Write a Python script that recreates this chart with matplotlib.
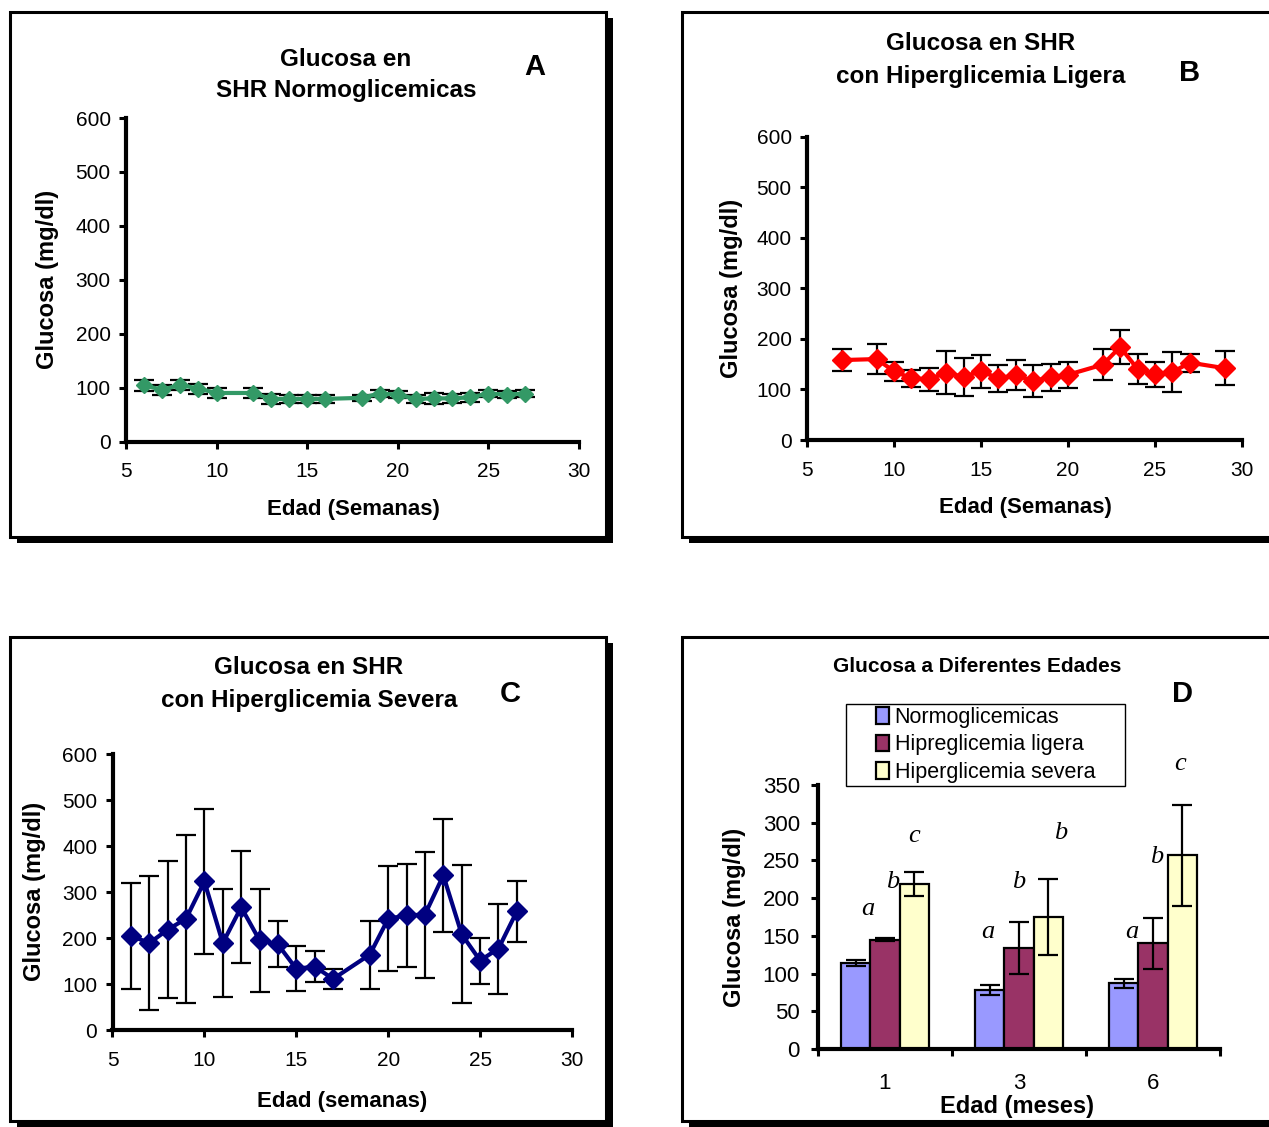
import numpy as np
import matplotlib
matplotlib.use('Agg')
import matplotlib.pyplot as plt
from matplotlib.patches import Rectangle

plt.rcParams['font.family'] = ['Liberation Sans', 'DejaVu Sans']

# Panel A - normoglicemicas
a_weeks = [6, 7, 8, 9, 10, 12, 13, 14, 15, 16, 18, 19, 20, 21, 22, 23, 24, 25, 26, 27]
a_mean = [104, 96, 105, 98, 90, 90, 79, 79, 79, 79, 81, 89, 87, 79, 80, 80, 82, 89, 87, 89]
a_err = [10, 9, 9, 9, 10, 10, 10, 8, 8, 8, 6, 7, 7, 8, 10, 8, 8, 7, 7, 7]

# Panel B - hiperglicemia ligera
b_weeks = [7, 9, 10, 11, 12, 13, 14, 15, 16, 17, 18, 19, 20, 22, 23, 24, 25, 26, 27, 29]
b_mean = [158, 160, 136, 122, 120, 133, 125, 136, 122, 128, 117, 124, 129, 149, 184, 140, 130, 134, 153, 142]
b_err = [22, 30, 19, 17, 23, 43, 38, 33, 27, 30, 32, 27, 26, 31, 34, 30, 25, 39, 18, 34]

# Panel C - hiperglicemia severa
c_weeks = [6, 7, 8, 9, 10, 11, 12, 13, 14, 15, 16, 17, 19, 20, 21, 22, 23, 24, 25, 26, 27]
c_mean = [205, 189, 218, 242, 323, 189, 267, 195, 186, 133, 138, 111, 164, 242, 249, 251, 336, 208, 151, 177, 258]
c_err = [115, 146, 149, 183, 157, 118, 122, 112, 50, 49, 34, 22, 74, 114, 112, 137, 122, 150, 50, 98, 67]

# Panel D - glucosa por edad (meses)
ages = ['1', '3', '6']
normo = [114, 78, 87]
normo_err = [4, 7, 6]
ligera = [145, 134, 140]
ligera_err = [2, 34, 34]
severa = [219, 175, 257]
severa_err = [16, 50, 67]
series_names = ['Normoglicemicas', 'Hipreglicemia ligera', 'Hiperglicemia severa']

# significance letters: (group, offset, y, letter)
sig_group = [0, 0, 0, 1, 1, 1, 2, 2, 2]
sig_off = [-0.13, 0.06, 0.22, -0.23, 0.0, 0.31, -0.16, 0.03, 0.2]
sig_y = [186, 222, 282, 155, 222, 286, 155, 255, 378]
sig_txt = ['a', 'b', 'c', 'a', 'b', 'b', 'a', 'b', 'c']

W, H = 1269, 1127
fig = plt.figure(figsize=(W / 100, H / 100), dpi=100)
fig.patch.set_facecolor('white')


def fx(px):
    return px / W


def fy(py):
    return 1 - py / H


def frame(left, top, right, bottom):
    sh = Rectangle((fx(left + 7), fy(bottom + 6)), (right - left) / W, (bottom - top) / H,
                   transform=fig.transFigure, facecolor='black', edgecolor='none', zorder=-2)
    box = Rectangle((fx(left), fy(bottom)), (right - left) / W, (bottom - top) / H,
                    transform=fig.transFigure, facecolor='white', edgecolor='black', lw=2.2, zorder=-1)
    fig.add_artist(sh)
    fig.add_artist(box)


def make_axes(left, top, right, bottom):
    ax = fig.add_axes([fx(left), fy(bottom), (right - left) / W, (bottom - top) / H])
    ax.patch.set_alpha(0)
    for s in ['top', 'right']:
        ax.spines[s].set_visible(False)
    for s in ['left', 'bottom']:
        ax.spines[s].set_linewidth(3)
    ax.tick_params(direction='out', length=5, width=2.2, labelsize=15)
    ax.tick_params(axis='x', pad=10)
    ax.tick_params(axis='y', pad=6)
    return ax


def line_panel(ax, weeks, mean, err, color, ms):
    ax.errorbar(weeks, mean, yerr=err, fmt='none', ecolor='black', elinewidth=1.6,
                capsize=7.5, capthick=1.6, zorder=2, clip_on=False)
    ax.plot(weeks, mean, color=color, lw=3, marker='D', ms=ms, zorder=3, clip_on=False)
    ax.set_xlim(5, 30)
    ax.set_ylim(0, 600)
    ax.set_xticks(range(5, 31, 5))
    ax.set_yticks(range(0, 601, 100))


def text(px, py, s, size, **kw):
    kw.setdefault('ha', 'center')
    kw.setdefault('va', 'center')
    fig.text(fx(px), fy(py), s, fontsize=size, **kw)


frame(10, 12, 606, 537)
frame(682, 12, 1300, 537)
frame(10, 637, 606, 1121)
frame(682, 637, 1300, 1121)

# A
axA = make_axes(126, 118, 579, 441.5)
line_panel(axA, a_weeks, a_mean, a_err, '#339966', 8.5)
text(346, 59, 'Glucosa en', 17.5, fontweight='bold')
text(346, 91, 'SHR Normoglicemicas', 17.5, fontweight='bold')
text(535, 67, 'A', 21, fontweight='bold')
text(353, 509, 'Edad (Semanas)', 16, fontweight='bold')
text(48, 279, 'Glucosa (mg/dl)', 17, fontweight='bold', rotation=90)

# B
axB = make_axes(807, 136.5, 1242, 440)
line_panel(axB, b_weeks, b_mean, b_err, '#ff0000', 10.5)
text(981, 44, 'Glucosa en SHR', 17.5, fontweight='bold')
text(981, 76, 'con Hiperglicemia Ligera', 17.5, fontweight='bold')
text(1190, 73, 'B', 21, fontweight='bold')
text(1025, 507, 'Edad (Semanas)', 16, fontweight='bold')
text(731, 288, 'Glucosa (mg/dl)', 17, fontweight='bold', rotation=90)

# C
axC = make_axes(112.5, 754, 572, 1030)
line_panel(axC, c_weeks, c_mean, c_err, '#000080', 10)
text(309, 668, 'Glucosa en SHR', 17.5, fontweight='bold')
text(309, 701, 'con Hiperglicemia Severa', 17.5, fontweight='bold')
text(510, 694, 'C', 21, fontweight='bold')
text(342, 1102, 'Edad (semanas)', 16, fontweight='bold')
text(35, 891, 'Glucosa (mg/dl)', 17, fontweight='bold', rotation=90)

# D
axD = make_axes(818, 785, 1220, 1049)
x = np.arange(len(ages))
w = 0.219
cols = ['#9999ff', '#993366', '#ffffcc']
vals = [normo, ligera, severa]
errs = [normo_err, ligera_err, severa_err]
for i in range(3):
    axD.bar(x + (i - 1) * w, vals[i], w, color=cols[i], edgecolor='black', lw=1.6,
            label=series_names[i], zorder=2)
    axD.errorbar(x + (i - 1) * w, vals[i], yerr=errs[i], fmt='none', ecolor='black',
                 elinewidth=1.6, capsize=7, capthick=1.6, zorder=3)
for g, o, yv, t in zip(sig_group, sig_off, sig_y, sig_txt):
    axD.text(g + o, yv, t, fontsize=19, family='Liberation Serif', style='italic',
             ha='center', va='center', clip_on=False)
axD.set_xlim(-0.5, 2.5)
axD.set_ylim(0, 350)
axD.set_yticks(range(0, 351, 50))
axD.set_xticks([-0.5, 0.5, 1.5, 2.5])
axD.set_xticklabels([])
axD.set_xticks(x, minor=True)
axD.set_xticklabels(ages, minor=True)
axD.tick_params(axis='x', which='minor', length=0, pad=17, labelsize=16)
axD.tick_params(axis='y', labelsize=16, pad=8)
leg = axD.legend(loc='upper left', bbox_to_anchor=(fx(876), fy(707)), bbox_transform=fig.transFigure,
                 frameon=False, fontsize=15.5, handlelength=0.62, handleheight=0.8,
                 handletextpad=0.25, labelspacing=0.3, borderpad=0, borderaxespad=0)
fig.add_artist(Rectangle((fx(846), fy(786)), 279 / W, 82 / H, transform=fig.transFigure,
                         facecolor='none', edgecolor='black', lw=1))
text(977, 666, 'Glucosa a Diferentes Edades', 15, fontweight='bold')
text(1183, 694, 'D', 21, fontweight='bold')
text(1017, 1106, 'Edad (meses)', 17, fontweight='bold')
text(735, 917, 'Glucosa (mg/dl)', 17, fontweight='bold', rotation=90)

fig.savefig('out.png', dpi=100, facecolor='white')
